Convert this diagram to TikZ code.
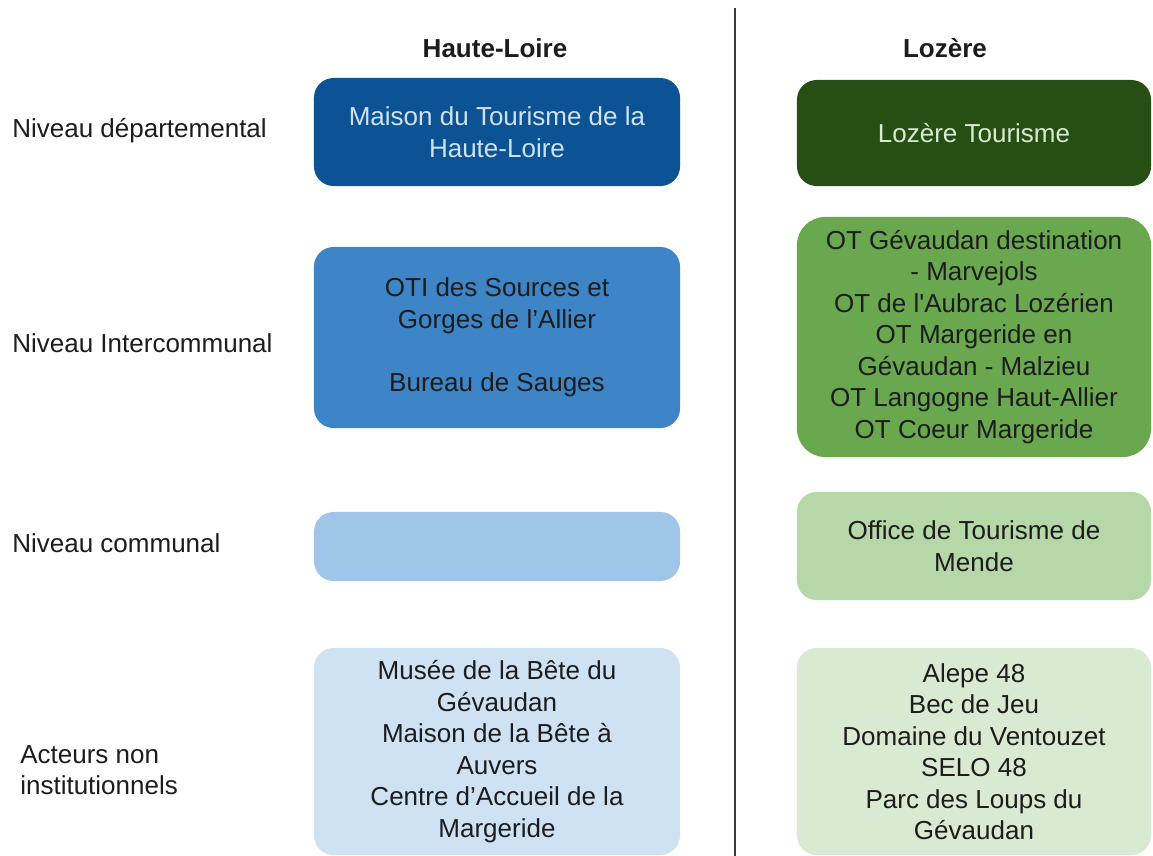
\documentclass[tikz,border=0pt]{standalone}
\usepackage{fontspec}
\setmainfont{Liberation Sans}
\usetikzlibrary{positioning}
\definecolor{HlDark}{HTML}{0B5394}
\definecolor{HlMid}{HTML}{3D85C6}
\definecolor{HlLight}{HTML}{9FC5E8}
\definecolor{HlPale}{HTML}{CFE2F3}
\definecolor{LzDark}{HTML}{274E13}
\definecolor{LzMid}{HTML}{6AA84F}
\definecolor{LzLight}{HTML}{B6D7A8}
\definecolor{LzPale}{HTML}{D9EAD3}
\definecolor{InkText}{HTML}{1C1C1C}
\definecolor{SepLine}{HTML}{3A3A3A}

\begin{document}
\begin{tikzpicture}[
  x=0.025cm,y=-0.025cm,
  every node/.style={font=\fontsize{18.5}{22.4}\selectfont,text=InkText},
  levelbox/.style={rounded corners=14pt,align=center,inner sep=0pt},
  hlbox/.style={levelbox,minimum width=9.15cm},
  lzbox/.style={levelbox,minimum width=8.85cm},
  levellabel/.style={anchor=west,align=left,inner sep=0pt},
  colhead/.style={font=\fontsize{18.5}{22.4}\selectfont\bfseries}
]
\useasboundingbox (0,0) rectangle (1153,856);

% column headers and separator
\node[colhead] (hlhead) at (495,48) {Haute-Loire};
\node[colhead] (lzhead) at (945,48) {Lozère};
\coordinate (septop) at (735,8);
\coordinate (sepbot) at (735,856);
\draw[SepLine,line width=1pt] (septop) -- (sepbot);

% level labels
\node[levellabel] (lvldep) at (12,131) {Niveau départemental};
\node[levellabel] (lvlinter) at (12,343) {Niveau Intercommunal};
\node[levellabel] (lvlcom) at (12,543) {Niveau communal};
\node[levellabel] (lvlact) at (20,770) {Acteurs non\\institutionnels};

% Haute-Loire column
\node[hlbox,fill=HlDark,text=HlPale,minimum height=2.7cm] (hldep) at (497,132) {Maison du Tourisme de la\\Haute-Loire};
\node[hlbox,fill=HlMid,minimum height=4.525cm] (hlinter) at (497,337.5) {OTI des Sources et\\Gorges de l’Allier\\[22.4pt]Bureau de Sauges};
\node[hlbox,fill=HlLight,minimum height=1.725cm] (hlcom) at (497,546.5) {};
\node[hlbox,fill=HlPale,minimum height=5.175cm] (hlact) at (497,751.5) {Musée de la Bête du\\Gévaudan\\Maison de la Bête à\\Auvers\\Centre d’Accueil de la\\Margeride};

% Lozère column
\node[lzbox,fill=LzDark,text=LzPale,minimum height=2.65cm] (lzdep) at (974,133) {Lozère Tourisme};
\node[lzbox,fill=LzMid,rounded corners=20pt,minimum height=6cm] (lzinter) at (974,337) {OT Gévaudan destination\\- Marvejols\\OT de l\textquotesingle Aubrac Lozérien\\OT Margeride en\\Gévaudan - Malzieu\\OT Langogne Haut-Allier\\OT Coeur Margeride};
\node[lzbox,fill=LzLight,minimum height=2.7cm] (lzcom) at (974,546) {Office de Tourisme de\\Mende};
\node[lzbox,fill=LzPale,minimum height=5.175cm] (lzact) at (974,751.5) {Alepe 48\\Bec de Jeu\\Domaine du Ventouzet\\SELO 48\\Parc des Loups du\\Gévaudan};
\end{tikzpicture}
\end{document}
